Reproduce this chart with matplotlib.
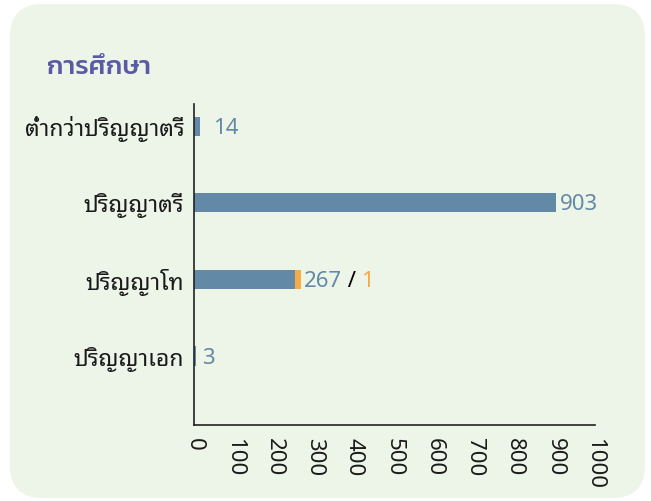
import matplotlib
matplotlib.use("Agg")
import matplotlib.pyplot as plt
from matplotlib.patches import FancyBboxPatch

# ข้อมูล
categories = ["ต่ำกว่าปริญญาตรี", "ปริญญาตรี", "ปริญญาโท", "ปริญญาเอก"]
main_values = [14, 903, 267, 3]
extra_values = [0, 0, 1, 0]
x_ticks = [0, 100, 200, 300, 400, 500, 600, 700, 800, 900, 1000]
title = "การศึกษา"

BLUE = "#6289a6"
ORANGE = "#f5ac47"
BG = "#edf4e8"
TXT_FONT = ["Noto Sans Thai Looped", "DejaVu Sans"]

fig = plt.figure(figsize=(6.51, 5.01), dpi=100)
fig.patch.set_facecolor("white")

# พื้นหลังมุมโค้ง
panel = FancyBboxPatch((10 / 651, 3 / 501), 635 / 651, 494 / 501,
                       boxstyle="round,pad=0,rounding_size=0.05",
                       transform=fig.transFigure, facecolor=BG,
                       edgecolor="none", zorder=-5, mutation_aspect=651 / 501)
fig.add_artist(panel)

fig.text(47 / 651, 1 - 68 / 501, title, fontsize=19, fontweight="medium",
         color="#5a5ba3", va="center", ha="left", family=["Kanit", "DejaVu Sans"])

ax = fig.add_axes([194 / 651, 1 - 425 / 501, 401 / 651, 321 / 501])
ax.set_facecolor("none")

y = list(range(len(categories)))
# แท่งค่าน้อยให้กว้างอย่างน้อย ~2px
shown_main = [max(v, 5) if v > 0 else 0 for v in main_values]
ax.barh(y, shown_main, height=0.25, color=BLUE, zorder=2)
# ส่วนสีส้มค่าน้อยมาก ให้ยาวขั้นต่ำพอมองเห็น โดยจบที่ค่ารวมจริง
min_len = 15
totals = [m + e for m, e in zip(main_values, extra_values)]
shown_extra = [max(e, min_len) if e > 0 else 0 for e in extra_values]
lefts = [t - s for t, s in zip(totals, shown_extra)]
ax.barh(y, shown_extra, left=lefts, height=0.25, color=ORANGE, zorder=3)

ax.set_xlim(0, 1000)
ax.set_ylim(3.9, -0.29)
ax.set_xticks(x_ticks)
ax.set_xticklabels([str(t) for t in x_ticks], rotation=-90, fontsize=16,
                   family=TXT_FONT, fontweight="light", color="#1a1a1a")
ax.set_yticks(y)
ax.set_yticklabels(categories, fontsize=16.5, family=TXT_FONT,
                   fontweight="light", color="#1a1a1a")
ax.tick_params(axis="both", length=0, pad=7)
ax.tick_params(axis="x", pad=9)
for s in ["top", "right"]:
    ax.spines[s].set_visible(False)
for s in ["left", "bottom"]:
    ax.spines[s].set_color("#222222")
    ax.spines[s].set_linewidth(1.2)

# ป้ายค่า
offsets = [13, 4, 2, 6]
for i, (m, e, sm) in enumerate(zip(main_values, extra_values, shown_main)):
    end = max(sm, totals[i])
    t = ax.annotate(str(m), (end, i), xytext=(offsets[i] * 0.72, -1.5),
                    textcoords="offset points", va="center", ha="left",
                    fontsize=16, color=BLUE, family=TXT_FONT)
    if e > 0:
        t2 = ax.annotate(" / ", xycoords=t, xy=(1, 0.5), va="center", ha="left",
                         fontsize=16, color="black", family=TXT_FONT)
        ax.annotate(str(e), xycoords=t2, xy=(1, 0.5), va="center", ha="left",
                    fontsize=16, color=ORANGE, family=TXT_FONT)

fig.savefig("out.png", dpi=100, facecolor="white")
